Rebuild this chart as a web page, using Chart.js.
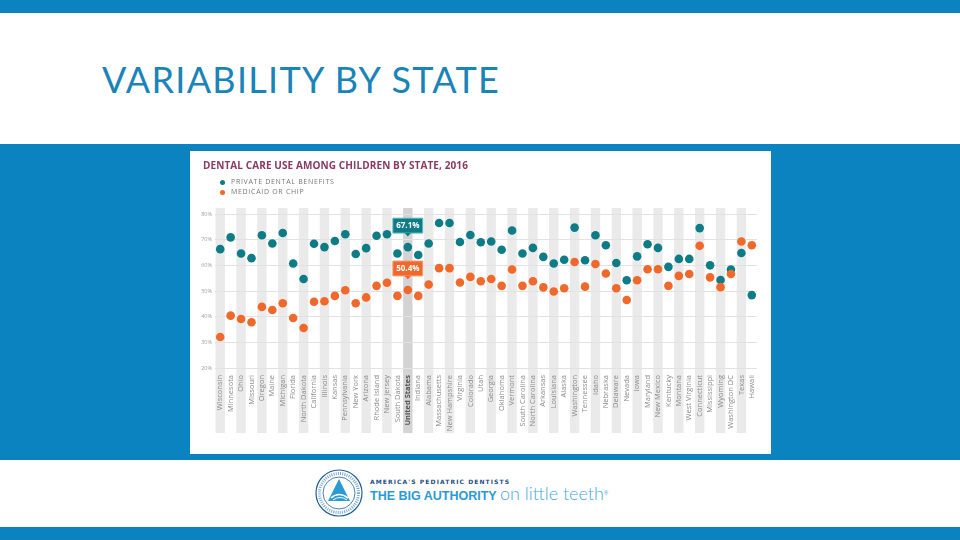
<!DOCTYPE html>
<html>
<head>
<meta charset="utf-8">
<title>Variability by State</title>
<script src="https://cdn.jsdelivr.net/npm/chart.js@4.4.1/dist/chart.umd.min.js"></script>
<style>
  html, body { margin: 0; padding: 0; }
  body { width: 960px; height: 540px; position: relative; overflow: hidden; background: #fff; font-family: 'Open Sans', sans-serif; }
  .top-bar, .bottom-bar { position: absolute; left: 0; width: 960px; height: 13px; background: #0a83c0; }
  .top-bar { top: 0; }
  .bottom-bar { top: 527px; }
  .page-title { position: absolute; left: 102px; top: 61px; font-family: Lato, sans-serif; font-size: 36px; line-height: 1; color: #1a84b8; letter-spacing: 1.3px; white-space: nowrap; }
  .band { position: absolute; left: 0; top: 144px; width: 960px; height: 316px; background: #0a83c0; }
  .panel { position: absolute; left: 190px; top: 151px; width: 581px; height: 303px; background: #fff; }
  .panel canvas { position: absolute; left: 0; top: 0; }
  .chart-title { position: absolute; left: 13px; top: 9px; font-size: 10px; font-weight: 700; color: #8a3a64; letter-spacing: 0.1px; white-space: nowrap; line-height: 1; }
  .legend { position: absolute; left: 30px; top: 26px; font-size: 7px; color: #767676; letter-spacing: 0.7px; line-height: 10px; }
  .legend div { position: relative; padding-left: 11px; white-space: nowrap; }
  .legend span { position: absolute; left: 0; top: 2.5px; width: 5px; height: 5px; border-radius: 50%; }
  .logo { position: absolute; left: 314px; top: 467px; }
  .logo-text { position: absolute; left: 370px; top: 478px; white-space: nowrap; }
  .logo-small { font-family: 'DejaVu Sans', sans-serif; font-size: 6px; font-weight: 700; color: #1d4f86; letter-spacing: 1.1px; }
  .logo-big { margin-top: 1px; font-size: 13px; line-height: 14px; }
  .logo-big b { font-family: 'Liberation Sans', sans-serif; font-weight: 700; font-size: 12.5px; color: #2a9ad5; letter-spacing: 0; }
  .logo-big i { font-style: normal; font-family: Lato, sans-serif; font-weight: 300; font-size: 18px; color: #4aa9da; }
  .logo-big sup { font-size: 5px; color: #4aa9da; }
</style>
</head>
<body>
<div class="top-bar"></div>
<div class="page-title">VARIABILITY BY STATE</div>
<div class="band"></div>
<div class="panel">
  <canvas id="stateChart" width="581" height="303"></canvas>
  <div class="chart-title">DENTAL CARE USE AMONG CHILDREN BY STATE, 2016</div>
  <div class="legend">
    <div><span style="background:#0e7c86"></span>PRIVATE DENTAL BENEFITS</div>
    <div><span style="background:#f0682a"></span>MEDICAID OR CHIP</div>
  </div>
</div>
<svg class="logo" width="50" height="52" viewBox="0 0 50 52">
  <circle cx="25" cy="26" r="23" fill="#fff" stroke="#1d5f9a" stroke-width="1.2"/>
  <circle cx="25" cy="26" r="16" fill="none" stroke="#1d5f9a" stroke-width="0.8"/>
  <circle cx="25" cy="26" r="19.5" fill="none" stroke="#7aa6cc" stroke-width="3" stroke-dasharray="1 1.2"/>
  <path d="M25 12 L36 34 L14 34 Z" fill="#2a9ad5"/>
  <path d="M17 31 Q25 24 34 31" fill="none" stroke="#fff" stroke-width="1.6"/>
  <path d="M19 33 Q26 28 33 33" fill="none" stroke="#fff" stroke-width="1"/>
</svg>
<div class="logo-text">
  <div class="logo-small">AMERICA'S PEDIATRIC DENTISTS</div>
  <div class="logo-big"><b>THE BIG AUTHORITY</b> <i>on little teeth</i><sup>&reg;</sup></div>
</div>
<div class="bottom-bar"></div>

<script>
// Chart data
const states = ['Wisconsin', 'Minnesota', 'Ohio', 'Missouri', 'Oregon', 'Maine', 'Michigan', 'Florida',
  'North Dakota', 'California', 'Illinois', 'Kansas', 'Pennsylvania', 'New York', 'Arizona', 'Rhode Island',
  'New Jersey', 'South Dakota', 'United States', 'Indiana', 'Alabama', 'Massachusetts', 'New Hampshire',
  'Virginia', 'Colorado', 'Utah', 'Georgia', 'Oklahoma', 'Vermont', 'South Carolina', 'North Carolina',
  'Arkansas', 'Louisiana', 'Alaska', 'Washington', 'Tennessee', 'Idaho', 'Nebraska', 'Delaware', 'Nevada',
  'Iowa', 'Maryland', 'New Mexico', 'Kentucky', 'Montana', 'West Virginia', 'Connecticut', 'Mississippi',
  'Wyoming', 'Washington DC', 'Texas', 'Hawaii'];

const privateBenefits = [66.3, 70.9, 64.6, 62.8, 71.7, 68.5, 72.6, 60.7, 54.7, 68.4, 67.1, 69.5, 72.1,
  64.4, 66.7, 71.5, 72.1, 64.6, 67.1, 64.0, 68.5, 76.5, 76.5, 69.1, 71.8, 69.0, 69.3, 66.1, 73.6, 64.6,
  66.8, 63.3, 60.7, 62.2, 74.7, 62.0, 71.7, 67.8, 60.9, 54.2, 63.5, 68.2, 66.8, 59.4, 62.5, 62.5, 74.5,
  60.0, 54.3, 58.4, 64.8, 48.4];

const medicaidChip = [32.1, 40.4, 39.1, 37.8, 43.8, 42.6, 45.2, 39.5, 35.6, 45.8, 46.0, 48.1, 50.3,
  45.2, 47.5, 52.0, 53.2, 48.1, 50.4, 48.1, 52.5, 58.9, 58.9, 53.3, 55.5, 53.8, 54.7, 52.0, 58.4, 52.0,
  53.8, 51.4, 49.8, 51.1, 61.3, 51.7, 60.5, 56.8, 51.1, 46.5, 54.2, 58.5, 58.5, 52.0, 55.9, 56.6, 67.6,
  55.3, 51.5, 56.6, 69.3, 67.8];

const yTicks = [20, 30, 40, 50, 60, 70, 80];
const usIndex = states.indexOf('United States');

const TEAL = '#0e7c86';
const ORANGE = '#f0682a';

// Grey column stripes behind every other state
const stripePlugin = {
  id: 'stripes',
  beforeDraw(chart) {
    const { ctx, chartArea, scales: { x } } = chart;
    const step = x.getPixelForValue(1) - x.getPixelForValue(0);
    const w = step * 0.9;
    ctx.save();
    states.forEach((s, i) => {
      if (i % 2) return;
      ctx.fillStyle = i === usIndex ? '#d3d3d3' : '#eaeaea';
      ctx.fillRect(x.getPixelForValue(i) - w / 2, chartArea.top - 6, w, chartArea.bottom - chartArea.top + 71);
    });
    ctx.restore();
  }
};

// Value callouts above the United States points
const calloutPlugin = {
  id: 'callouts',
  afterDatasetsDraw(chart) {
    const ctx = chart.ctx;
    chart.data.datasets.forEach((ds, di) => {
      const pt = chart.getDatasetMeta(di).data[usIndex];
      if (!pt) return;
      const label = ds.data[usIndex].toFixed(1) + '%';
      const w = 30, h = 15;
      const bx = pt.x - w / 2;
      const by = pt.y - 14 - h;
      ctx.save();
      ctx.fillStyle = ds.backgroundColor;
      ctx.strokeStyle = ds.calloutBorder;
      ctx.lineWidth = 1;
      ctx.beginPath();
      ctx.rect(bx, by, w, h);
      ctx.fill();
      ctx.stroke();
      ctx.beginPath();
      ctx.moveTo(pt.x - 3, by + h);
      ctx.lineTo(pt.x + 3, by + h);
      ctx.lineTo(pt.x, by + h + 3.5);
      ctx.closePath();
      ctx.fill();
      ctx.fillStyle = '#fff';
      ctx.font = "bold 8px 'Open Sans', sans-serif";
      ctx.textAlign = 'center';
      ctx.textBaseline = 'middle';
      ctx.fillText(label, pt.x, by + h / 2 + 0.5);
      ctx.restore();
    });
  }
};

Chart.defaults.font.family = "'Open Sans', sans-serif";

const chartEl = document.getElementById('stateChart');
new Chart(chartEl, {
  type: 'line',
  data: {
    labels: states,
    datasets: [{
      label: 'Private dental benefits',
      data: privateBenefits,
      backgroundColor: TEAL,
      borderColor: TEAL,
      calloutBorder: '#6cc3c8',
      showLine: false,
      pointRadius: 4.3,
      pointBorderWidth: 0,
      order: 2
    }, {
      label: 'Medicaid or CHIP',
      data: medicaidChip,
      backgroundColor: ORANGE,
      borderColor: ORANGE,
      calloutBorder: '#f7a77e',
      showLine: false,
      pointRadius: 4.3,
      pointBorderWidth: 0,
      order: 1
    }]
  },
  options: {
    responsive: false,
    animation: false,
    layout: { padding: { top: 63, left: 0, right: 14, bottom: 16 } },
    plugins: { legend: { display: false }, tooltip: { enabled: false } },
    scales: {
      x: {
        offset: true,
        grid: { display: false, drawTicks: false },
        border: { display: false },
        afterFit: scale => { scale.height = 70; },
        ticks: {
          autoSkip: false,
          minRotation: 90,
          maxRotation: 90,
          padding: 7,
          color: ctx => ctx.index === usIndex ? '#555' : '#8a8a8a',
          font: ctx => ctx.index === usIndex ? { size: 7.5, weight: 'bold' } : { size: 7.5 }
        }
      },
      y: {
        min: yTicks[0],
        max: yTicks[yTicks.length - 1],
        afterFit: scale => { scale.width = 25; },
        afterBuildTicks: scale => { scale.ticks = yTicks.map(v => ({ value: v })); },
        grid: { color: '#e2e2e2', drawTicks: false },
        border: { display: false },
        ticks: {
          padding: 3,
          color: '#a0a0a0',
          font: { size: 5.5 },
          callback: v => v + '%'
        }
      }
    }
  },
  plugins: [stripePlugin, calloutPlugin]
});
</script>
</body>
</html>
